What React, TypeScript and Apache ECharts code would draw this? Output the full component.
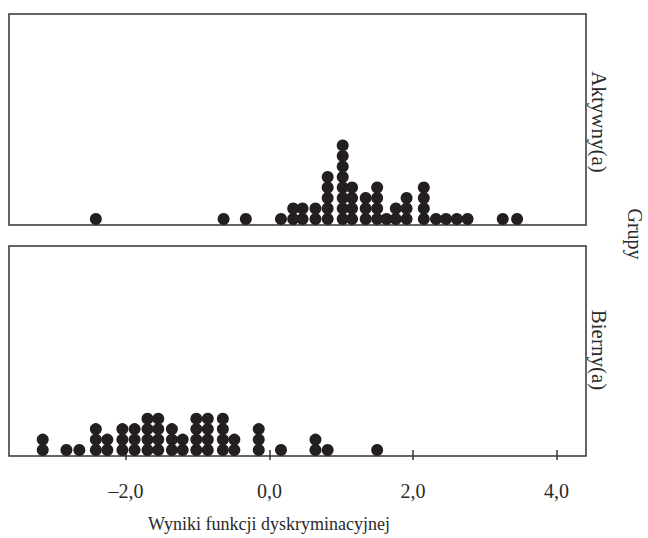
import React, { useEffect, useRef } from "react";
import * as echarts from "echarts";

// Bin centres (discriminant score) and number of stacked dots in each bin
const activeBins = [-2.42, -0.64, -0.33, 0.16, 0.33, 0.46, 0.64, 0.81, 1.02, 1.15, 1.34, 1.5, 1.63, 1.76, 1.91, 2.15, 2.32, 2.46, 2.61, 2.76, 3.25, 3.45];
const activeCounts = [1, 1, 1, 1, 2, 2, 2, 5, 8, 4, 3, 4, 1, 2, 3, 4, 1, 1, 1, 1, 1, 1];

const passiveBins = [-3.16, -2.83, -2.65, -2.42, -2.26, -2.05, -1.88, -1.7, -1.55, -1.36, -1.21, -1.02, -0.86, -0.65, -0.49, -0.15, 0.16, 0.64, 0.81, 1.5];
const passiveCounts = [2, 1, 1, 3, 2, 3, 3, 4, 4, 3, 2, 4, 4, 4, 2, 3, 1, 2, 1, 1];

const xTicks = [-2, 0, 2, 4];
const groupNames = ["Aktywny(a)", "Bierny(a)"];
const groupTitle = "Grupy";
const xTitle = "Wyniki funkcji dyskryminacyjnej";

const FONT = "'Liberation Serif', 'DejaVu Serif', serif";
const INK = "#231f20";
const TEXT = "#2a2a2a";

function stack(bins: number[], counts: number[]) {
  const out: number[][] = [];
  bins.forEach((b, i) => {
    for (let k = 0; k < counts[i]; k++) out.push([b, k]);
  });
  return out;
}

const fmt = (v: number) => (v < 0 ? "\u2013" : "") + Math.abs(v).toFixed(1).replace(".", ",");

export default function App() {
  const ref = useRef<HTMLDivElement>(null);
  useEffect(() => {
    if (!ref.current) return;
    const chart = echarts.init(ref.current, null, { renderer: "svg" });
    const xBase = {
      type: "value" as const,
      min: -3.63,
      max: 4.41,
      splitLine: { show: false },
    };
    const yBase = {
      type: "value" as const,
      min: -0.57,
      max: 19.5,
      show: false,
    };
    const rot = (text: string, x: number, y: number, size: number) => ({
      type: "text",
      x,
      y,
      rotation: -Math.PI / 2,
      style: { text, font: `${size}px ${FONT}`, fill: TEXT, textAlign: "center", textVerticalAlign: "middle" },
    });
    chart.setOption({
      animation: false,
      backgroundColor: "#fff",
      grid: [
        { left: 9, top: 14, width: 577, height: 211, show: true, borderColor: "#333", borderWidth: 1.5, backgroundColor: "transparent" },
        { left: 9, top: 246, width: 577, height: 210, show: true, borderColor: "#333", borderWidth: 1.5, backgroundColor: "transparent" },
      ],
      xAxis: [
        { ...xBase, gridIndex: 0, show: false },
        {
          ...xBase,
          gridIndex: 1,
          axisLine: { show: false },
          axisTick: { show: true, length: 10, inside: false, customValues: xTicks, lineStyle: { color: "#333", width: 1.5 } },
          axisLabel: { customValues: xTicks, formatter: fmt, margin: 25, fontFamily: FONT, fontSize: 20, color: TEXT },
        },
      ],
      yAxis: [
        { ...yBase, gridIndex: 0 },
        { ...yBase, gridIndex: 1 },
      ],
      graphic: [
        rot(groupNames[0], 599, 122, 21),
        rot(groupNames[1], 599, 350, 21),
        rot(groupTitle, 635, 234, 20),
        {
          type: "text",
          x: 269,
          y: 524,
          style: { text: xTitle, font: `18px ${FONT}`, fill: TEXT, textAlign: "center", textVerticalAlign: "middle" },
        },
      ],
      series: [
        { type: "scatter", xAxisIndex: 0, yAxisIndex: 0, symbol: "circle", symbolSize: 12, itemStyle: { color: INK, opacity: 1 }, data: stack(activeBins, activeCounts) },
        { type: "scatter", xAxisIndex: 1, yAxisIndex: 1, symbol: "circle", symbolSize: 12, itemStyle: { color: INK, opacity: 1 }, data: stack(passiveBins, passiveCounts) },
      ],
    });
    return () => chart.dispose();
  }, []);
  return <div ref={ref} style={{ width: 648, height: 538, position: "absolute", left: 0, top: 0 }} />;
}
